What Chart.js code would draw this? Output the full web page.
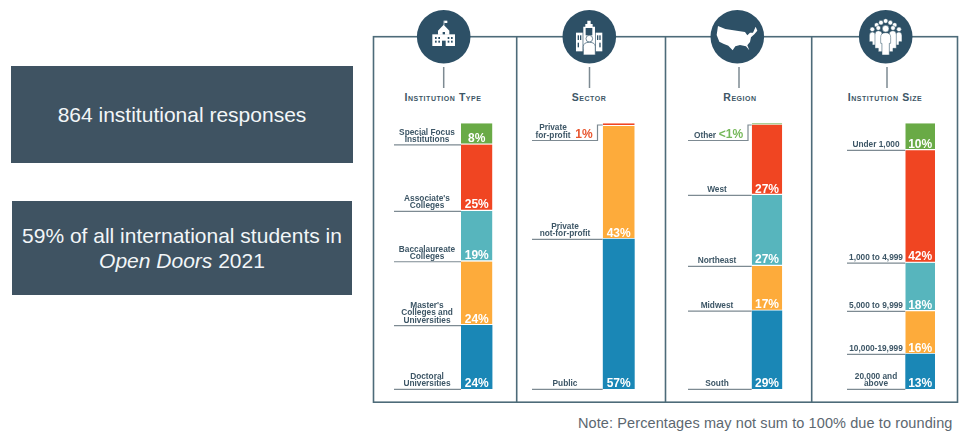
<!DOCTYPE html>
<html><head><meta charset="utf-8">
<style>
html,body{margin:0;padding:0;background:#fff;width:972px;height:441px;overflow:hidden;font-family:"Liberation Sans",Arial,sans-serif}
.box{position:absolute;background:#3f5362;color:#f2f6f8;display:flex;align-items:center;justify-content:center;text-align:center;font-size:21px;line-height:25px}
.title{position:absolute;top:91px;width:140px;text-align:center;font:bold 10.5px "Liberation Sans",Arial,sans-serif;font-variant:small-caps;letter-spacing:.55px;color:#3d5666}
.note{position:absolute;left:578px;top:415px;font-size:14.5px;color:#5c6770;white-space:nowrap;letter-spacing:.1px}
canvas{position:absolute;left:0;top:0;pointer-events:none}
svg{position:absolute;left:0;top:0}
</style></head><body>
<div class="box" style="left:11px;top:66px;width:342px;height:97px"><span>864 institutional responses</span></div>
<div class="box" style="left:12px;top:201px;width:340px;height:94px"><span>59% of all international students in<br><i>Open Doors</i> 2021</span></div>
<svg width="972" height="441">
 <g fill="none" stroke="#4d6b79" stroke-width="1.6">
  <rect x="373.5" y="36.7" width="584" height="365.5"/>
  <path d="M516.7 36.7V402M665.5 36.7V402M811.7 36.7V402"/>
 </g>
 <g stroke="#7d8a92" stroke-width="1.5"><path d="M443.7 67V88M589.5 67V88M739 67V88M887 67V88"/></g>
 <g fill="#2d5066"><circle cx="443.7" cy="36.7" r="26.8"/><circle cx="589.3" cy="36.7" r="26.8"/><circle cx="737.3" cy="36.7" r="26.8"/><circle cx="885.7" cy="36.7" r="26.8"/></g>
 <!-- school -->
 <g transform="translate(370,0) scale(.3333)" fill="#fff">
  <rect x="187" y="103" width="68" height="35"/><path d="M204 92 221 74 238 92 238 104 204 104Z"/><rect x="221" y="62" width="2" height="14"/><rect x="223" y="62" width="9" height="7"/>
  <g fill="#2d5066"><rect x="195" y="111" width="5" height="6"/><rect x="205" y="111" width="5" height="6"/><rect x="233" y="111" width="5" height="6"/><rect x="243" y="111" width="5" height="6"/><rect x="195" y="122" width="5" height="6"/><rect x="205" y="122" width="5" height="6"/><rect x="233" y="122" width="5" height="6"/><rect x="243" y="122" width="5" height="6"/><rect x="216" y="122" width="11" height="16"/><rect x="218" y="96" width="7" height="7"/></g>
 </g>
 <!-- sector -->
 <g transform="translate(370,0) scale(.3333)" fill="#fff">
  <path d="M640 148V80H646V72H652V62H662V72H668V80H675V148Z"/><rect x="618" y="98" width="20" height="56"/><rect x="677" y="98" width="20" height="56"/>
  <g fill="#2d5066"><rect x="647" y="84" width="20" height="22"/><rect x="623" y="106" width="4" height="14"/><rect x="630" y="106" width="4" height="14"/><rect x="681" y="106" width="4" height="14"/><rect x="688" y="106" width="4" height="14"/><rect x="623" y="128" width="4" height="14"/><rect x="688" y="128" width="4" height="14"/></g>
  <circle cx="658" cy="116" r="10" stroke="#2d5066" stroke-width="2"/><path d="M640 165V140Q640 127 658 127 676 127 676 140V165Z" stroke="#2d5066" stroke-width="2"/>
 </g>
 <!-- map -->
 <g transform="translate(660,0) scale(.3333)" fill="#fff">
  <path d="M174 78 196 87 235 93 255 96 262 106 270 98 279 98 287 80 292 92 283 103 273 112 270 126 262 136 268 151 258 139 240 135 226 139 218 151 205 137 190 131 178 125 170 105Z"/>
 </g>
 <!-- crowd -->
 <g transform="translate(660,0) scale(.3333)" fill="#fff" stroke="#2d5066" stroke-width="1.5">
  <circle cx="650" cy="75" r="7"/><circle cx="663" cy="68" r="7"/><circle cx="677" cy="63" r="7"/><circle cx="691" cy="68" r="7"/><circle cx="704" cy="75" r="7"/>
  <circle cx="637" cy="88" r="7"/><circle cx="717" cy="88" r="7"/><circle cx="655" cy="84" r="7"/><circle cx="699" cy="84" r="7"/>
  <path d="M628 125V107Q628 96 637 96 647 96 647 107V135H637V125Z"/><path d="M726 125V107Q726 96 717 96 707 96 707 107V135H717V125Z"/>
  <path d="M645 145V104Q645 92 655 92 667 92 667 104V155H655V145Z"/><path d="M709 145V104Q709 92 699 92 687 92 687 104V155H699V145Z"/>
  <circle cx="677" cy="86" r="10"/><path d="M662 130V112Q662 98 677 98 692 98 692 112V130L688 130 688 165H666L666 130Z"/>
 </g>
</svg>
<div class="title" style="left:373px">Institution Type</div>
<div class="title" style="left:519px">Sector</div>
<div class="title" style="left:670px">Region</div>
<div class="title" style="left:815px">Institution Size</div>
<div class="note">Note: Percentages may not sum to 100% due to rounding</div>
<script src="https://cdn.jsdelivr.net/npm/chart.js@4"></script>
<script>
// Data, bottom of each stack first
const typeLabels = ["Doctoral\nUniversities","Master's\nColleges and\nUniversities","Baccalaureate\nColleges","Associate's\nColleges","Special Focus\nInstitutions"];
const typeValues = [24,24,19,25,8];
const typeText   = ["24%","24%","19%","25%","8%"];
const sectorLabels = ["Public","Private\nnot-for-profit","Private\nfor-profit"];
const sectorValues = [57,43,1];
const sectorText   = ["57%","43%","1%"];
const regionLabels = ["South","Midwest","Northeast","West","Other"];
const regionValues = [29.4,16.9,26.7,26.5,0.5];
const regionText   = ["29%","17%","27%","27%","<1%"];
const sizeLabels = ["20,000 and\nabove","10,000-19,999","5,000 to 9,999","1,000 to 4,999","Under 1,000"];
const sizeValues = [13,16,18,42,10];
const sizeText   = ["13%","16%","18%","42%","10%"];

// Colours and layout
const fiveColors  = ["#1a87b6","#fdab3b","#57b5bd","#f04522","#69aa46"];
const threeColors = ["#1a87b6","#fdab3b","#f04522"];
const W=972,H=441,plotTop=123.3,plotBottom=389;
const panels=[
 {id:"type",labels:typeLabels,values:typeValues,text:typeText,colors:fiveColors,left:461,right:492.5,ruleFrom:394,labelX:427},
 {id:"sector",labels:sectorLabels,values:sectorValues,text:sectorText,colors:threeColors,left:602.7,right:634.7,ruleFrom:532,labelX:565,elbowX:597.5,elbowLabelX:553,elbowTextX:584,elbowColor:"#e8562f"},
 {id:"region",labels:regionLabels,values:regionValues,text:regionText,colors:fiveColors,left:751.7,right:782.3,ruleFrom:688,labelX:717,elbowX:748,elbowLabelX:705,elbowTextX:731,elbowColor:"#76b85a"},
 {id:"size",labels:sizeLabels,values:sizeValues,text:sizeText,colors:fiveColors,left:905.3,right:935,ruleFrom:847,labelX:876}
];
const ink="#3d5666",rule="#7d8a92";
const annotate={id:"annotate",afterDatasetsDraw(chart,args,opts){
  const p=opts.panel,ctx=chart.ctx,y=chart.scales.y;let sum=0;
  ctx.save();
  p.values.forEach((v,i)=>{
    sum+=v;
    const b=y.getPixelForValue(sum-v);
    const elbow=p.elbowX&&i===p.values.length-1;
    const ruleY=elbow?140.5:b+0.3;
    ctx.strokeStyle=rule;ctx.lineWidth=1.2;ctx.beginPath();ctx.moveTo(p.ruleFrom,ruleY);
    if(elbow){ctx.lineTo(p.elbowX,ruleY);ctx.lineTo(p.elbowX,125);ctx.lineTo(p.left,125);}
    else ctx.lineTo(p.left,ruleY);
    ctx.stroke();
    const lines=p.labels[i].split("\n"),lx=elbow?p.elbowLabelX:p.labelX;
    ctx.font='bold 8.3px "Liberation Sans",Arial,sans-serif';ctx.fillStyle=ink;ctx.textAlign="center";ctx.textBaseline="alphabetic";
    lines.forEach((t,k)=>ctx.fillText(t,lx,ruleY-3-(lines.length-1-k)*7.2));
    ctx.font='bold 12px "Liberation Sans",Arial,sans-serif';
    if(elbow){ctx.fillStyle=p.elbowColor;ctx.fillText(p.text[i],p.elbowTextX,ruleY-2.5);}
    else{ctx.fillStyle="#fff";ctx.fillText(p.text[i],(p.left+p.right)/2,b-2.5);}
  });
  ctx.restore();
}};
panels.forEach(p=>{
  const c=document.createElement("canvas");c.width=W;c.height=H;c.style.width=W+"px";c.style.height=H+"px";c.id=p.id;document.body.appendChild(c);
  new Chart(c,{type:"bar",plugins:[annotate],
    data:{labels:[p.id],datasets:p.values.map((v,i)=>({label:p.labels[i].replace("\n"," "),data:[v],backgroundColor:p.colors[i],borderColor:"#fff",borderSkipped:false,borderWidth:{top:0,left:0,right:0,bottom:i?1.5:0},barPercentage:1,categoryPercentage:1}))},
    options:{responsive:false,animation:false,
      layout:{padding:{left:p.left,right:W-p.right,top:plotTop,bottom:H-plotBottom}},
      scales:{x:{stacked:true,display:false},y:{stacked:true,display:false,min:0,max:p.values.reduce((a,b)=>a+b,0)}},
      plugins:{legend:{display:false},tooltip:{enabled:false},annotate:{panel:p}}}});
});
</script>
</body></html>
